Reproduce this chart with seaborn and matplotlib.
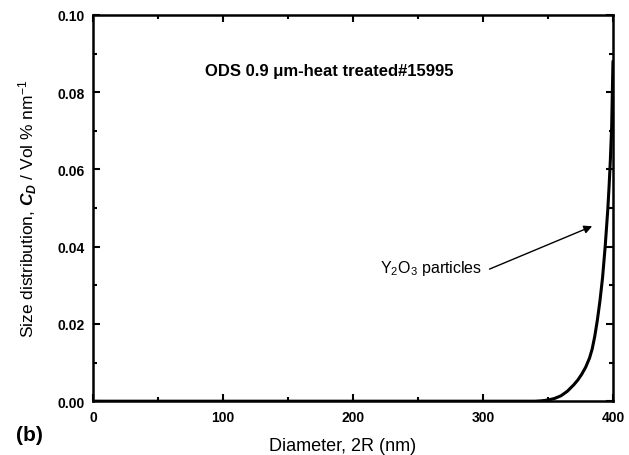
import matplotlib
matplotlib.use("Agg")
import matplotlib.pyplot as plt
from matplotlib.ticker import MultipleLocator, FormatStrFormatter
import seaborn as sns
import pandas as pd

# size distribution
diameter = [0, 300, 340, 345, 350, 355, 360, 365, 370, 373, 376, 379, 382, 384,
            386, 388, 390, 392, 394, 396, 397, 398, 399, 400]
cd = [0, 0, 0, 0.0001, 0.0003, 0.0007, 0.0014, 0.0026, 0.0043, 0.0055, 0.0070,
      0.0088, 0.0112, 0.0135, 0.0168, 0.0210, 0.0260, 0.0320, 0.0400, 0.0495,
      0.0555, 0.0625, 0.0710, 0.0880]

df = pd.DataFrame({"diameter": diameter, "cd": cd})

sns.set_style("ticks", {"axes.edgecolor": "black", "text.color": "black",
                        "axes.labelcolor": "black", "xtick.color": "black",
                        "ytick.color": "black"})
plt.rcParams["font.family"] = ["Liberation Sans", "DejaVu Sans"]
plt.rcParams["mathtext.fontset"] = "custom"
plt.rcParams["mathtext.rm"] = "Liberation Sans"
plt.rcParams["mathtext.it"] = "Liberation Sans:italic:bold"
plt.rcParams["mathtext.bf"] = "Liberation Sans:bold"

fig = plt.figure(figsize=(6.29, 4.56), dpi=100)
ax = fig.add_axes([0.148, 0.118, 0.8265, 0.847])

sns.lineplot(data=df, x="diameter", y="cd", ax=ax, color="black", linewidth=2.2)

ax.set_xlim(0, 400)
ax.set_ylim(0, 0.10)
ax.xaxis.set_major_locator(MultipleLocator(100))
ax.xaxis.set_minor_locator(MultipleLocator(50))
ax.yaxis.set_major_locator(MultipleLocator(0.02))
ax.yaxis.set_minor_locator(MultipleLocator(0.01))
ax.yaxis.set_major_formatter(FormatStrFormatter("%.2f"))
ax.tick_params(which="both", direction="in", top=True, right=True, width=1.5,
               color="black", labelcolor="black")
ax.tick_params(which="major", length=5, labelsize=10, pad=6)
ax.tick_params(which="minor", length=3)
for lbl in ax.get_xticklabels() + ax.get_yticklabels():
    lbl.set_fontweight("bold")
for sp in ax.spines.values():
    sp.set_linewidth(1.8)
    sp.set_color("black")

ax.set_xlabel("Diameter, 2R (nm)", fontsize=13, color="black")
ax.xaxis.set_label_coords(0.479, -0.092)
ax.set_ylabel(r"Size distribution, $C_D$ / Vol % nm$^{-1}$", fontsize=12.5, color="black")
ax.yaxis.set_label_coords(-0.105, 0.5)

ax.text(182, 0.0857, "ODS 0.9 \u03bcm-heat treated#15995", fontsize=12,
        fontweight="bold", ha="center", va="center", color="black")
ax.text(260, 0.0347, r"Y$_2$O$_3$ particles", fontsize=11.5, ha="center", va="center",
        color="black")
ax.annotate("", xy=(384, 0.0453), xytext=(305, 0.0342),
            arrowprops=dict(arrowstyle="-|>", color="black", lw=1.0,
                            shrinkA=0, shrinkB=0, mutation_scale=12))

fig.text(0.025, 0.046, "(b)", fontsize=15, fontweight="bold", ha="left", va="center",
         color="black")

fig.savefig("out.png", dpi=100)
